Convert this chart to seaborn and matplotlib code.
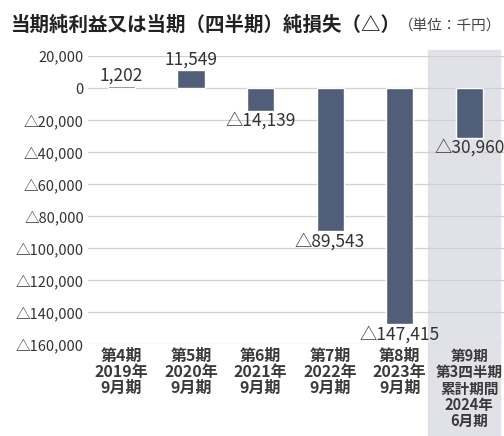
import matplotlib
matplotlib.use("Agg")
import matplotlib.pyplot as plt
import matplotlib.ticker as mticker
from matplotlib.patches import Rectangle
import seaborn as sns
import pandas as pd

# ─── Data ─────────────────────────────────────────────────────────────────────

periods = [
    "第4期\n2019年\n9月期",
    "第5期\n2020年\n9月期",
    "第6期\n2021年\n9月期",
    "第7期\n2022年\n9月期",
    "第8期\n2023年\n9月期",
    "第9期\n第3四半期\n累計期間\n2024年\n6月期",
]
net_income = [1202, 11549, -14139, -89543, -147415, -30960]
y_ticks = list(range(-160000, 20001, 20000))

TITLE = "当期純利益又は当期（四半期）純損失（△）"
UNIT = "（単位：千円）"

BAR_COLOR = "#505e7a"
SHADE = "#e1e1e8"
TEXT = "#333333"


def fmt(v):
    return f"△{abs(v):,.0f}" if v < 0 else f"{v:,.0f}"


df = pd.DataFrame({"period": periods, "value": net_income})

sns.set_theme(style="white")
plt.rcParams["font.family"] = ["Noto Sans CJK JP", "DejaVu Sans"]

fig = plt.figure(figsize=(5.04, 4.36), dpi=100)
ax = fig.add_axes([88 / 504, 1 - 344 / 436, 1 - 88 / 504, (344 - 56) / 436])
ax.set_facecolor("none")

# shaded band for the current (quarterly) period, runs down through the labels
fig.patches.append(Rectangle((428 / 504, 0), 72 / 504, 1 - 50 / 436,
                             transform=fig.transFigure, color=SHADE, zorder=-5))

for t in y_ticks:
    ax.axhline(t, color="#d0d0d0", lw=0.9, zorder=0)

sns.barplot(data=df, x="period", y="value", color=BAR_COLOR, width=0.39,
            saturation=1, ax=ax, zorder=2)

ax.bar_label(ax.containers[0], labels=[fmt(v) for v in net_income],
             padding=1, fontsize=12.5, color=TEXT)

ax.set_ylim(-160000, 20000)
ax.set_xlim(-0.48, 5.5)
ax.set_yticks(y_ticks)
ax.yaxis.set_major_formatter(mticker.FuncFormatter(lambda v, p: fmt(v)))
ax.tick_params(axis="y", labelsize=10.5, colors=TEXT, length=0, pad=3)
ax.tick_params(axis="x", labelsize=11.5, colors="#3a3a3a", length=0, pad=3)
for lab in ax.get_xticklabels():
    lab.set_linespacing(0.98)
    lab.set_fontweight("bold")
# the quarterly label is wider, keep it inside the shaded column
last = ax.get_xticklabels()[-1]
last.set_fontsize(10.5)
last.set_linespacing(1.02)
ax.set_xlabel("")
ax.set_ylabel("")
sns.despine(ax=ax, left=True, bottom=True, top=True, right=True)

# title with smaller unit note after it
t1 = fig.text(11 / 504, 1 - 25 / 436, TITLE, fontsize=14, fontweight="bold",
              color="#222222", va="center", ha="left")
fig.canvas.draw()
bb = t1.get_window_extent()
fig.text(bb.x1 / 504 - 0.004, 1 - 26 / 436, UNIT, fontsize=10.5, color="#444444",
         va="center", ha="left")

fig.savefig("out.png", dpi=100)
